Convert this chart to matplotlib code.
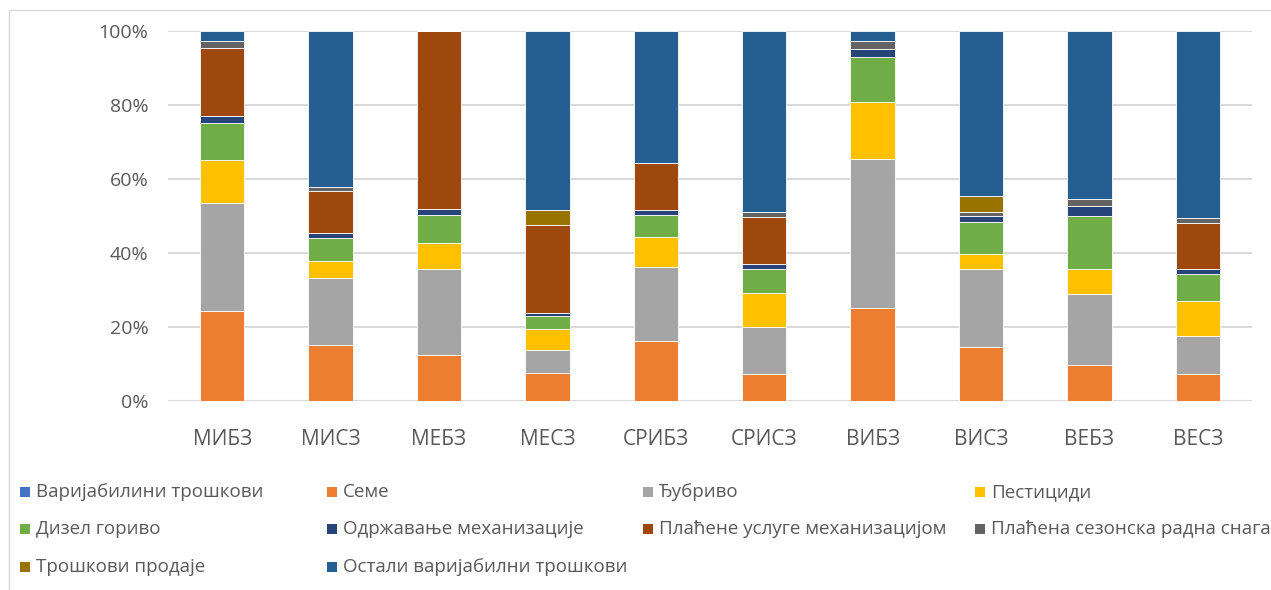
import matplotlib
matplotlib.use("Agg")
import matplotlib.pyplot as plt
from matplotlib.patches import Rectangle
import numpy as np

plt.rcParams['font.family'] = ['Open Sans', 'DejaVu Sans']

categories = ["МИБЗ", "МИСЗ", "МЕБЗ", "МЕСЗ", "СРИБЗ", "СРИСЗ", "ВИБЗ", "ВИСЗ", "ВЕБЗ", "ВЕСЗ"]

series_names = [
    "Варијабилини трошкови", "Семе", "Ђубриво", "Пестициди",
    "Дизел гориво", "Одржавање механизације", "Плаћене услуге механизацијом",
    "Плаћена сезонска радна снага", "Трошкови продаје", "Остали варијабилни трошкови",
]

varijabilni = [0, 0, 0, 0, 0, 0, 0, 0, 0, 0]
seme        = [24.4, 15.2, 12.4, 7.5, 16.3, 7.4, 25.2, 14.7, 9.6, 7.2]
djubrivo    = [29.0, 18.0, 23.4, 6.3, 20.0, 12.6, 40.2, 20.9, 19.4, 10.3]
pesticidi   = [11.7, 4.7, 6.9, 5.6, 7.9, 9.3, 15.4, 4.0, 6.7, 9.5]
dizel       = [10.0, 6.2, 7.7, 3.6, 6.2, 6.5, 12.2, 8.8, 14.4, 7.2]
odrzavanje  = [2.0, 1.2, 1.4, 0.7, 1.1, 1.3, 2.2, 1.7, 2.7, 1.4]
usluge      = [18.4, 11.4, 48.2, 24.0, 12.7, 12.7, 0.0, 0.0, 0.0, 12.6]
sezonska    = [1.7, 1.1, 0.0, 0.0, 0.0, 1.2, 2.0, 0.9, 1.7, 1.2]
prodaja     = [0.0, 0.0, 0.0, 3.9, 0.0, 0.0, 0.0, 4.3, 0.0, 0.0]
ostali      = [2.8, 42.2, 0.0, 48.4, 35.8, 49.0, 2.8, 44.7, 45.5, 50.6]

series_values = [varijabilni, seme, djubrivo, pesticidi, dizel, odrzavanje,
                 usluge, sezonska, prodaja, ostali]

colors = ["#4472C4", "#ED7D31", "#A5A5A5", "#FFC000", "#70AD47",
          "#264478", "#9E480E", "#636363", "#997300", "#255E91"]

W, H = 1271, 590
fig = plt.figure(figsize=(W / 100, H / 100), dpi=100)

# chart border
fig.patches.append(Rectangle((9 / W, -0.1), 1.2, 1 - 10 / H + 0.1, transform=fig.transFigure,
                             fill=False, edgecolor="#D9D9D9", linewidth=1.0))

ax = fig.add_axes([168 / W, 1 - 401 / H, (1252 - 168) / W, (401 - 31) / H])

vals = np.array(series_values, dtype=float)
totals = vals.sum(axis=0)
pct = vals / totals * 100
x = np.arange(len(categories))
bottom = np.zeros(len(categories))
for name, v, c in zip(series_names, pct, colors):
    ax.bar(x, v, bottom=bottom, width=0.41, color=c, edgecolor="white",
           linewidth=0.6, label=name, zorder=3)
    bottom += v

ax.set_xlim(-0.5, len(categories) - 0.5)
ax.set_ylim(0, 100)
ax.set_yticks(np.arange(0, 101, 20))
ax.set_yticklabels([f"{t}%" for t in range(0, 101, 20)])
ax.set_xticks(x)
ax.set_xticklabels(categories)
ax.yaxis.grid(True, color="#D9D9D9", linewidth=1.5, zorder=0)
ax.set_axisbelow(True)
for s in ["top", "right", "left", "bottom"]:
    ax.spines[s].set_visible(False)
ax.axhline(0, color="#D9D9D9", linewidth=1.5, zorder=1)
ax.tick_params(axis="both", length=0, colors="#595959")
ax.tick_params(axis="y", pad=14, labelsize=14)
ax.tick_params(axis="x", pad=20, labelsize=15)

# legend, laid out row by row like the original
col_x = [20, 327, 643, 975]
row_y = [492, 529, 567]
for i, (name, c) in enumerate(zip(series_names, colors)):
    r, col = divmod(i, 4)
    xm, ym = col_x[col], row_y[r]
    fig.patches.append(Rectangle((xm / W, 1 - (ym + 5) / H), 10 / W, 10 / H,
                                 transform=fig.transFigure, facecolor=c, edgecolor="none"))
    fig.text((xm + 16) / W, 1 - ym / H, name, ha="left", va="center",
             fontsize=13.5, color="#595959")

fig.savefig("out.png", dpi=100)
